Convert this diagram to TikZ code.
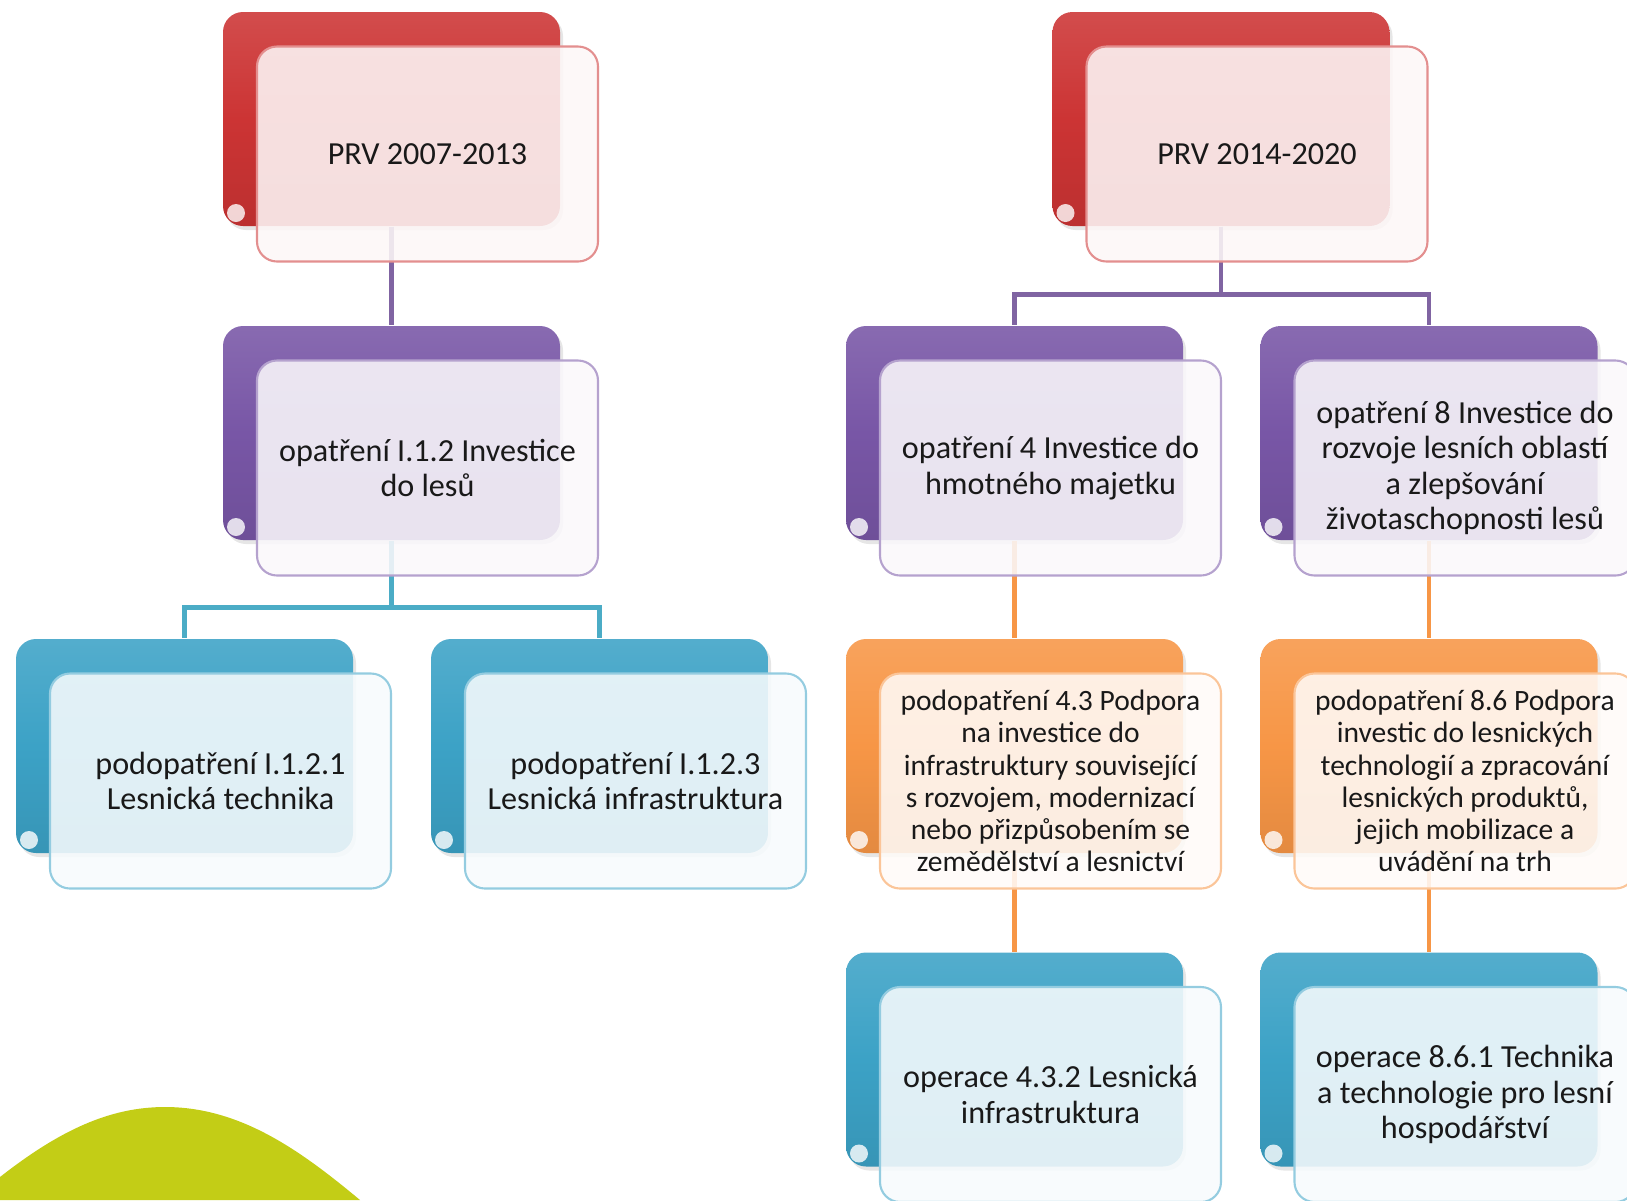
\documentclass[tikz,border=0pt]{standalone}
\usepackage{fontspec}
\setmainfont{Carlito}
\usetikzlibrary{positioning,shadows}
\definecolor{prvred}{RGB}{204,52,52}
\definecolor{prvpurple}{RGB}{120,86,166}
\definecolor{prvteal}{RGB}{60,162,198}
\definecolor{prvorange}{RGB}{247,150,70}
\definecolor{prvgreen}{RGB}{195,205,22}
\definecolor{linkpurple}{RGB}{128,100,162}
\definecolor{linkteal}{RGB}{75,172,198}
\definecolor{linkorange}{RGB}{247,150,70}

\tikzset{
  backbox/.style={rounded corners=0.2cm, minimum width=3.37cm, minimum height=2.14cm,
    top color=#1!88!white, bottom color=#1!92!black, middle color=#1,
    drop shadow={opacity=0.2, shadow xshift=0.03cm, shadow yshift=-0.04cm},
    path picture={\fill[white, opacity=0.8] ([shift={(0.13,0.13)}]path picture bounding box.south west) circle (0.09);}},
  frontbox/.style={rounded corners=0.2cm, minimum width=3.41cm, minimum height=2.15cm,
    fill=#1!4!white, fill opacity=0.88, text opacity=1, draw=#1!55!white, line width=0.6pt,
    align=center, font=\fontsize{9.15pt}{10.1pt}\selectfont, text=black!90},
  smalltext/.style={font=\fontsize{8.4pt}{9.15pt}\selectfont},
  link/.style={draw=#1, line width=1.4pt}
}

\begin{document}
\begin{tikzpicture}
  \useasboundingbox (0,0) rectangle (16.27,-12);
  % background hill
  \fill[prvgreen] (0,-11.77) .. controls (0.6,-11.3) and (1.1,-11.07) .. (1.65,-11.07)
    .. controls (2.4,-11.07) and (3.0,-11.5) .. (3.6,-12) -- (0,-12) -- cycle;

  % back boxes
  \node[backbox=prvred] (prv1) at (3.915,-1.19) {};
  \node[backbox=prvpurple] (op1) at (3.915,-4.33) {};
  \node[backbox=prvteal] (pod1) at (1.845,-7.46) {};
  \node[backbox=prvteal] (pod2) at (5.995,-7.46) {};
  \node[backbox=prvred] (prv2) at (12.21,-1.19) {};
  \node[backbox=prvpurple] (op4) at (10.145,-4.33) {};
  \node[backbox=prvpurple] (op8) at (14.29,-4.33) {};
  \node[backbox=prvorange] (pod43) at (10.145,-7.46) {};
  \node[backbox=prvorange] (pod86) at (14.29,-7.46) {};
  \node[backbox=prvteal] (oper432) at (10.145,-10.595) {};
  \node[backbox=prvteal] (oper861) at (14.29,-10.595) {};

  % connectors
  \draw[link=linkpurple] (prv1.south) -- (op1.north);
  \draw[link=linkteal] (op1.south) -- ++(0,-0.67) -| (pod1.north);
  \draw[link=linkteal] (op1.south) -- ++(0,-0.67) -| (pod2.north);
  \draw[link=linkpurple] (prv2.south) -- ++(0,-0.68) -| (op4.north);
  \draw[link=linkpurple] (prv2.south) -- ++(0,-0.68) -| (op8.north);
  \draw[link=linkorange] (op4.south) -- (pod43.north);
  \draw[link=linkorange] (op8.south) -- (pod86.north);
  \draw[link=linkorange] (pod43.south) -- (oper432.north);
  \draw[link=linkorange] (pod86.south) -- (oper861.north);

  % front boxes with texts
  \node[frontbox=prvred] (prv1t) at ([shift={(0.36,-0.35)}]prv1) {PRV 2007-2013};
  \node[frontbox=prvpurple] (op1t) at ([shift={(0.36,-0.35)}]op1) {opatření I.1.2 Investice\\do lesů};
  \node[frontbox=prvteal] (pod1t) at ([shift={(0.36,-0.35)}]pod1) {podopatření I.1.2.1\\Lesnická technika};
  \node[frontbox=prvteal] (pod2t) at ([shift={(0.36,-0.35)}]pod2) {podopatření I.1.2.3\\Lesnická infrastruktura};
  \node[frontbox=prvred] (prv2t) at ([shift={(0.36,-0.35)}]prv2) {PRV 2014-2020};
  \node[frontbox=prvpurple] (op4t) at ([shift={(0.36,-0.35)}]op4) {opatření 4 Investice do\\hmotného majetku};
  \node[frontbox=prvpurple] (op8t) at ([shift={(0.36,-0.35)}]op8) {opatření 8 Investice do\\rozvoje lesních oblastí\\a zlepšování\\životaschopnosti lesů};
  \node[frontbox=prvorange, smalltext] (pod43t) at ([shift={(0.36,-0.35)}]pod43) {podopatření 4.3 Podpora\\na investice do\\infrastruktury související\\s rozvojem, modernizací\\nebo přizpůsobením se\\zemědělství a lesnictví};
  \node[frontbox=prvorange, smalltext] (pod86t) at ([shift={(0.36,-0.35)}]pod86) {podopatření 8.6 Podpora\\investic do lesnických\\technologií a zpracování\\lesnických produktů,\\jejich mobilizace a\\uvádění na trh};
  \node[frontbox=prvteal] (oper432t) at ([shift={(0.36,-0.35)}]oper432) {operace 4.3.2 Lesnická\\infrastruktura};
  \node[frontbox=prvteal] (oper861t) at ([shift={(0.36,-0.35)}]oper861) {operace 8.6.1 Technika\\a technologie pro lesní\\hospodářství};
\end{tikzpicture}
\end{document}
